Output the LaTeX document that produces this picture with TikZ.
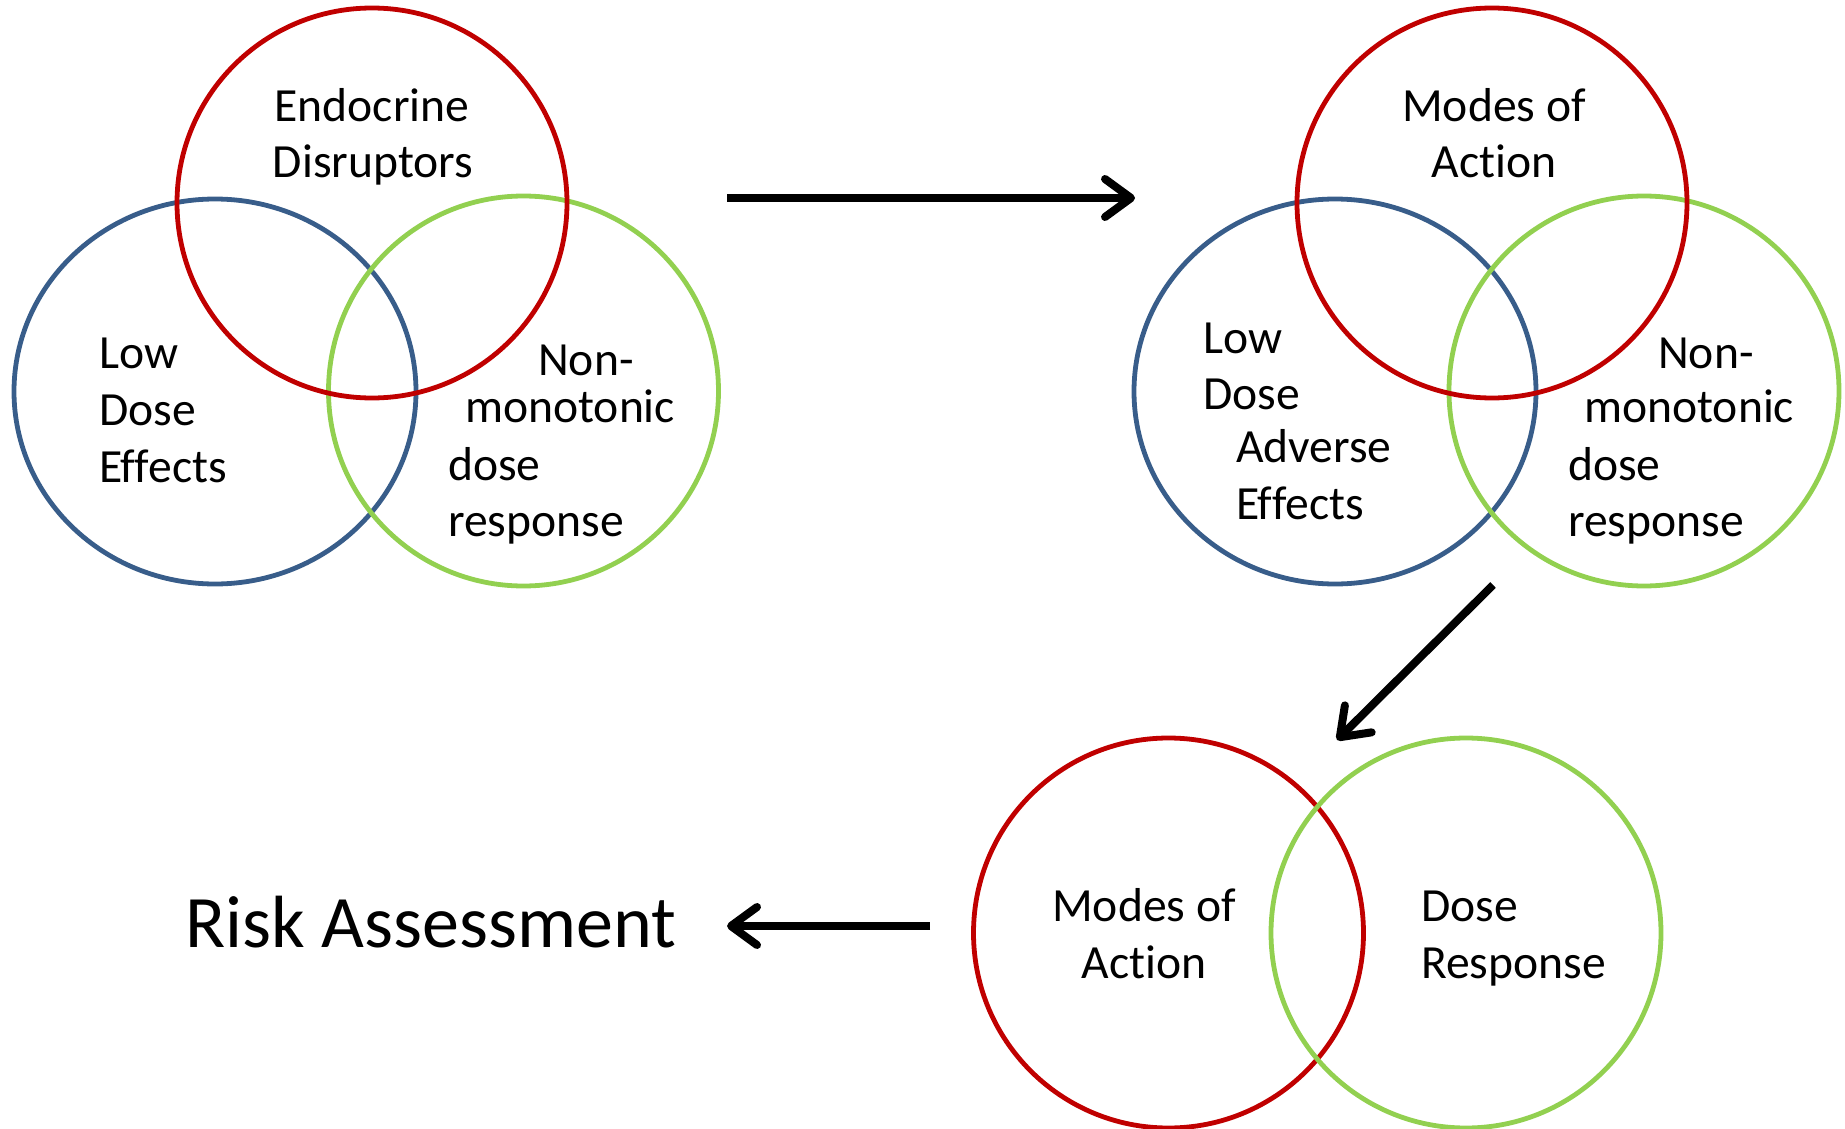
\documentclass[tikz,border=0pt]{standalone}
\usepackage{fontspec}
\setmainfont{Carlito}[Ligatures=NoCommon]
\usetikzlibrary{arrows.meta}
\definecolor{vred}{HTML}{C00000}
\definecolor{vblue}{HTML}{385D8A}
\definecolor{vgreen}{HTML}{92D050}
\begin{document}
\begin{tikzpicture}[x=1pt,y=-1pt,
  ring/.style={line width=4.8pt},
  lbl/.style={inner sep=0pt,font=\fontsize{47.6}{56}\selectfont},
  lw/.style={lbl,anchor=base west},
  lc/.style={lbl,anchor=base},
  flow/.style={line width=8pt,-{Straight Barb[length=26pt,width=38pt,round]}}]
\useasboundingbox (0,0) rectangle (1845,1129);
% ---------- top-left Venn ----------
\draw[ring,vblue] (215,391.5) ellipse [x radius=201pt,y radius=192.5pt];
\draw[ring,vgreen] (523.5,391) circle [radius=195pt];
\draw[ring,vred] (372,203) circle [radius=195pt];
\node[lc] (a1) at (372,122) {Endocrine};
\node[lc] (a2) at (373,178) {Disruptors};
\node[lw] (b1) at (99,368) {Low};
\node[lw] (b2) at (99,425) {Dose};
\node[lw] (b3) at (99,482) {Effects};
\node[lw] (c1) at (538,375) {Non-};
\node[lw] (c2) at (465,422) {monotonic};
\node[lw] (c3) at (448,480) {dose};
\node[lw] (c4) at (448,536) {response};
% ---------- top-right Venn ----------
\draw[ring,vblue] (1335,391.5) ellipse [x radius=201pt,y radius=192.5pt];
\draw[ring,vgreen] (1644,391) circle [radius=195pt];
\draw[ring,vred] (1492,203) circle [radius=195pt];
\node[lc] (d1) at (1494,122) {Modes of};
\node[lc] (d2) at (1494,178) {Action};
\node[lw] (e1) at (1203,353) {Low};
\node[lw] (e2) at (1203,409) {Dose};
\node[lw] (e3) at (1236,462) {Adverse};
\node[lw] (e4) at (1236,519) {Effects};
\node[lw] (f1) at (1658,368) {Non-};
\node[lw] (f2) at (1584,422) {monotonic};
\node[lw] (f3) at (1568,480) {dose};
\node[lw] (f4) at (1568,536) {response};
% ---------- bottom Venn ----------
\draw[ring,vred] (1168.5,933) circle [radius=195pt];
\draw[ring,vgreen] (1466,933) circle [radius=195pt];
\node[lc] (g1) at (1144,921) {Modes of};
\node[lc] (g2) at (1144,978) {Action};
\node[lw] (h1) at (1421,921) {Dose};
\node[lw] (h2) at (1421,978) {Response};
% ---------- result ----------
\node[inner sep=0pt,anchor=base west,font=\fontsize{74}{88}\selectfont] (risk) at (185,947) {Risk Assessment};
% ---------- arrows ----------
\coordinate (p1s) at (727,198);
\coordinate (p1e) at (1135,198);
\coordinate (p2s) at (1493,585);
\coordinate (p2e) at (1337,740);
\coordinate (p3s) at (930,926);
\coordinate (p3e) at (727,926);
\draw[flow] (p1s) -- (p1e);
\draw[flow] (p2s) -- (p2e);
\draw[flow] (p3s) -- (p3e);
\end{tikzpicture}
\end{document}
